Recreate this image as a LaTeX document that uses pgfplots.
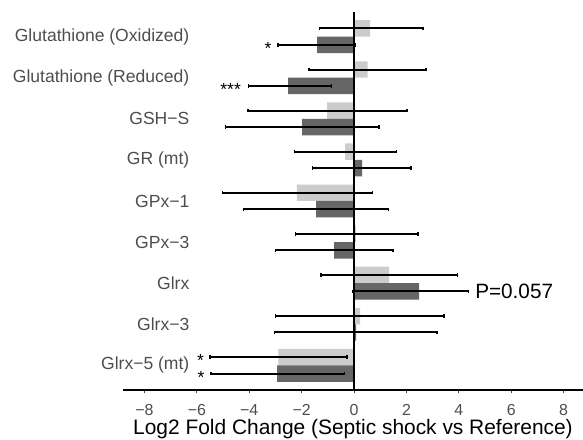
\documentclass[border=0pt]{standalone}
\usepackage{fontspec}
\setmainfont{Liberation Sans}
\usepackage{pgfplots}
\pgfplotsset{compat=1.18}
\definecolor{barlight}{HTML}{CCCCCC}
\definecolor{bardark}{HTML}{666666}
\definecolor{labgrey}{HTML}{4D4D4D}

\begin{document}
\begin{tikzpicture}
\begin{axis}[
  name=ax,
  scale only axis,
  width=460bp, height=378bp,
  xmin=-8.82, xmax=8.74,
  ymin=0.4, ymax=9.6,
  axis x line*=bottom,
  axis y line*=left,
  y axis line style={draw=none},
  x axis line style={line width=2bp, black},
  xtick={-8,-6,...,8},
  xticklabels={−8,−6,−4,−2,0,2,4,6,8},
  ytick={1,...,9},
  yticklabels={Glrx−5 (mt),Glrx−3,Glrx,GPx−3,GPx−1,GR (mt),GSH−S,Glutathione (Reduced),Glutathione (Oxidized)},
  tick align=outside,
  major tick length=3.5bp,
  xtick style={line width=1bp, color=black!70},
  ytick style={draw=none},
  xticklabel style={font=\fontsize{16}{18}\selectfont, text=labgrey, anchor=base, inner sep=0pt, yshift=-22bp},
  yticklabel style={font=\fontsize{17.6}{20}\selectfont, text=labgrey, inner sep=0pt, anchor=east, xshift=70bp},
  xlabel={Log2 Fold Change (Septic shock vs Reference)},
  xlabel style={font=\fontsize{21}{24}\selectfont, inner sep=0pt, at={(axis description cs:0.5,0)}, anchor=base, yshift=-44.5bp},
  xbar, bar width=0.4, bar shift=0,
  error bars/error mark=|,
  error bars/error bar style={draw=black, line width=2bp},
  error bars/error mark options={draw=black, line width=1.5bp, mark size=1.7bp},
]
% light series (upper bar of each pair)
\addplot[fill=barlight, draw=none, error bars/.cd, x dir=both, x explicit] coordinates {
  (0.61,9.2)  += (2.02,0) -= (1.93,0)
  (0.52,8.2)  += (2.23,0) -= (2.24,0)
  (-1.03,7.2) += (3.05,0) -= (3.02,0)
  (-0.34,6.2) += (1.97,0) -= (1.94,0)
  (-2.18,5.2) += (2.89,0) -= (2.84,0)
  (0.07,4.2)  += (2.37,0) -= (2.31,0)
  (1.34,3.2)  += (2.60,0) -= (2.60,0)
  (0.23,2.2)  += (3.21,0) -= (3.23,0)
  (-2.89,1.2) += (2.63,0) -= (2.61,0)
};
% dark series (lower bar of each pair)
\addplot[fill=bardark, draw=none, error bars/.cd, x dir=both, x explicit] coordinates {
  (-1.41,8.8) += (1.45,0) -= (1.50,0)
  (-2.52,7.8) += (1.65,0) -= (1.50,0)
  (-1.98,6.8) += (2.93,0) -= (2.93,0)
  (0.31,5.8)  += (1.87,0) -= (1.89,0)
  (-1.45,4.8) += (2.77,0) -= (2.77,0)
  (-0.76,3.8) += (2.25,0) -= (2.24,0)
  (2.48,2.8)  += (1.88,0) -= (2.53,0)
  (0.08,1.8)  += (3.09,0) -= (3.12,0)
  (-2.94,0.8) += (2.57,0) -= (2.52,0)
};
% zero line
\addplot[sharp plot, black, line width=2bp] coordinates {(0,0.4) (0,9.6)};

\node[font=\fontsize{17.6}{18}\selectfont, inner sep=0pt, yshift=-3.5bp] at (axis cs:-3.28,8.8) {*};
\node[font=\fontsize{17.6}{18}\selectfont, inner sep=0pt, yshift=-3.5bp] at (axis cs:-4.71,7.8) {***};
\node[font=\fontsize{17.6}{18}\selectfont, inner sep=0pt, yshift=-3.5bp] at (axis cs:-5.86,1.2) {*};
\node[font=\fontsize{17.6}{18}\selectfont, inner sep=0pt, yshift=-3.5bp] at (axis cs:-5.84,0.8) {*};
\node[font=\fontsize{20.8}{22}\selectfont, inner sep=0pt, anchor=west] at (axis cs:4.62,2.8) {P=0.057};
\end{axis}
\pgfresetboundingbox
\path ([xshift=-123bp,yshift=-50bp]ax.south west) rectangle ([yshift=12bp]ax.north east);
\end{tikzpicture}
\end{document}
